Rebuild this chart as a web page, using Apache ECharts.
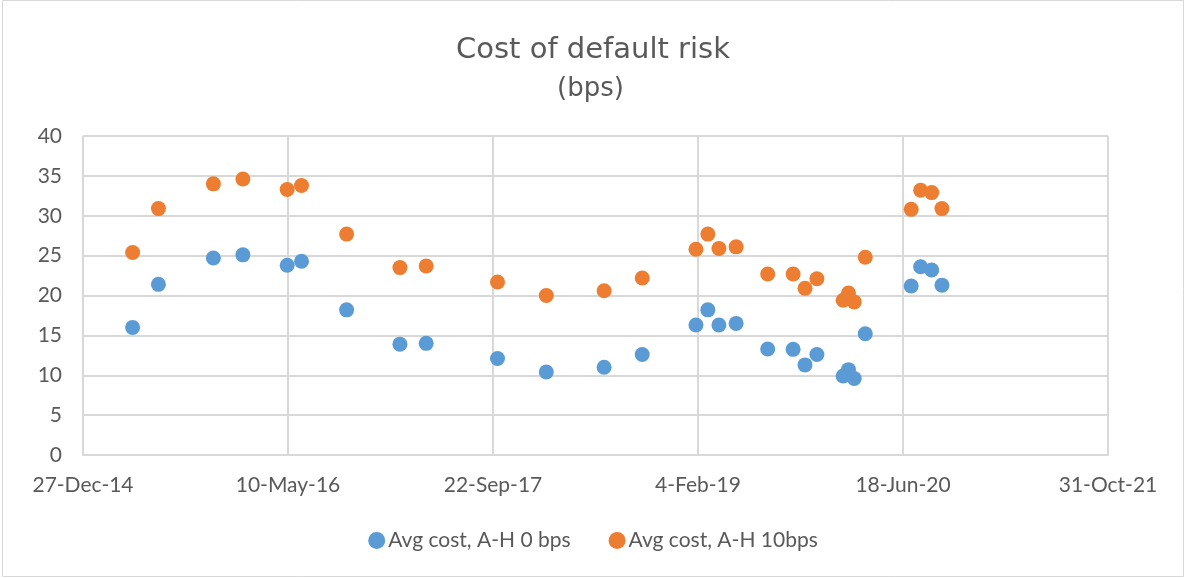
<!DOCTYPE html>
<html>
<head>
<meta charset="utf-8">
<script src="https://cdn.jsdelivr.net/npm/echarts@6/dist/echarts.min.js"></script>
<style>
html,body{margin:0;padding:0;background:#fff;}
#chart{width:1186px;height:578px;}
</style>
</head>
<body>
<div id="chart"></div>
<script>
// Observation dates
const dates = [
  '2015-04-27','2015-06-29','2015-11-10','2016-01-21','2016-05-08','2016-06-12',
  '2016-09-30','2017-02-07','2017-04-12','2017-10-03','2018-01-30','2018-06-20',
  '2018-09-21','2019-01-30','2019-02-28','2019-03-27','2019-05-08','2019-07-24',
  '2019-09-24','2019-10-23','2019-11-21','2020-01-24','2020-02-06','2020-02-20',
  '2020-03-18','2020-07-08','2020-07-31','2020-08-27','2020-09-21'
];
// Avg cost, A-H 0 bps
const avgCost0 = [
  16.0, 21.4, 24.7, 25.1, 23.8, 24.3,
  18.2, 13.9, 14.0, 12.1, 10.4, 11.0,
  12.6, 16.3, 18.2, 16.3, 16.5, 13.3,
  13.25, 11.3, 12.6, 9.9, 10.7, 9.6,
  15.2, 21.2, 23.6, 23.2, 21.3
];
// Avg cost, A-H 10bps
const avgCost10 = [
  25.4, 30.9, 34.0, 34.6, 33.3, 33.8,
  27.7, 23.5, 23.7, 21.7, 20.0, 20.6,
  22.2, 25.8, 27.7, 25.9, 26.1, 22.7,
  22.7, 20.9, 22.1, 19.4, 20.3, 19.2,
  24.8, 30.8, 33.2, 32.9, 30.9
];
const seriesNames = ['Avg cost, A-H 0 bps', 'Avg cost, A-H 10bps'];
// Axis (spreadsheet day serials): 27-Dec-14 .. 31-Oct-21, step 500 days
const xMin = 42000, xMax = 44500, xStep = 500;
const yMin = 0, yMax = 40, yStep = 5;

const MONTHS = ['Jan','Feb','Mar','Apr','May','Jun','Jul','Aug','Sep','Oct','Nov','Dec'];
function toSerial(s){
  const p = s.split('-').map(Number);
  return Math.round(Date.UTC(p[0], p[1]-1, p[2]) / 86400000) + 25569;
}
function fmtSerial(v){
  const d = new Date((v - 25569) * 86400000);
  return d.getUTCDate() + '-' + MONTHS[d.getUTCMonth()] + '-' + String(d.getUTCFullYear()).slice(2);
}
const xs = dates.map(toSerial);
const FONT = 'Lato';
const TFONT = 'DejaVu Sans';
const GRID = '#D9D9D9';
const chart = echarts.init(document.getElementById('chart'), null, {renderer:'canvas'});
chart.setOption({
  backgroundColor: '#fff',
  animation: false,
  title: [
    {text: 'Cost of default risk', left: 'center', top: 31,
     textStyle: {fontFamily: TFONT, fontSize: 29, fontWeight: 'normal', color: '#595959'}},
    {text: '(bps)', left: 552, top: 71,
     textStyle: {fontFamily: TFONT, fontSize: 26, fontWeight: 'normal', color: '#595959'}}
  ],
  graphic: [{type:'rect', shape:{x:2.5, y:0.5, width:1181, height:576},
    style:{fill:'none', stroke:'#D9D9D9', lineWidth:1}, silent:true}],
  legend: {
    bottom: 22, left: 'center', itemGap: 38, itemWidth: 17, itemHeight: 17,
    icon: 'circle',
    textStyle: {fontFamily: FONT, fontSize: 21, color: '#595959', padding:[0,0,0,-2]},
    data: seriesNames
  },
  grid: {left: 83, right: 78, top: 136, bottom: 123, containLabel: false},
  xAxis: {
    type: 'value', min: xMin, max: xMax, interval: xStep,
    axisLine: {show: true, lineStyle: {color: GRID, width: 2}},
    axisTick: {show: false},
    splitLine: {show: true, lineStyle: {color: GRID, width: 2}},
    axisLabel: {formatter: fmtSerial, fontFamily: FONT, fontSize: 21, color: '#595959', margin: 20,
      showMinLabel: true, showMaxLabel: true}
  },
  yAxis: {
    type: 'value', min: yMin, max: yMax, interval: yStep,
    axisLine: {show: false},
    axisTick: {show: false},
    splitLine: {show: true, lineStyle: {color: GRID, width: 2}},
    axisLabel: {fontFamily: FONT, fontSize: 21, color: '#595959', margin: 21}
  },
  series: [
    {name: seriesNames[0], type: 'scatter', symbol: 'circle', symbolSize: 15,
     itemStyle: {color: '#5B9BD5', opacity: 1},
     data: xs.map((x, i) => [x, avgCost0[i]])},
    {name: seriesNames[1], type: 'scatter', symbol: 'circle', symbolSize: 15,
     itemStyle: {color: '#ED7D31', opacity: 1},
     data: xs.map((x, i) => [x, avgCost10[i]])}
  ]
});
</script>
</body>
</html>
